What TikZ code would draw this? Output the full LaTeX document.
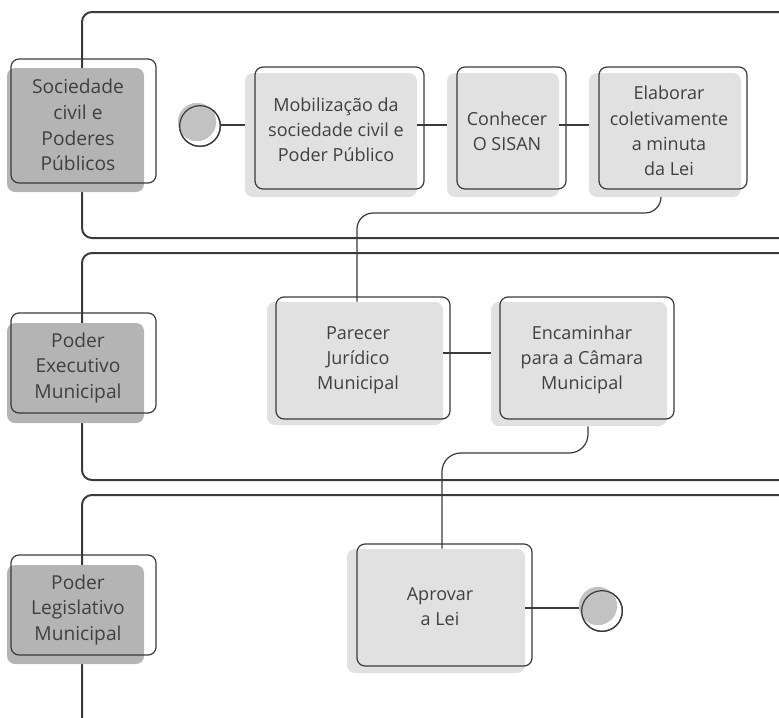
\documentclass[tikz,border=0pt]{standalone}
\usepackage{fontspec}
\setmainfont{Open Sans}
\usetikzlibrary{fit,calc}
\definecolor{lne}{HTML}{3A3A3A}
\definecolor{txt}{HTML}{404040}
\definecolor{hdfill}{HTML}{B4B4B4}
\definecolor{pfillc}{HTML}{E1E1E1}
\definecolor{cfill}{HTML}{C2C2C2}
\tikzset{
  lane/.style={draw=lne, line width=1.5pt, rounded corners=7.5pt},
  hdbg/.style={fill=hdfill, draw=none, rounded corners=6pt, inner sep=0pt},
  pbg/.style={fill=pfillc, draw=none, rounded corners=6pt, inner sep=0pt},
  obox/.style={draw=lne, line width=0.9pt, rounded corners=6pt, inner sep=0pt, fill=none},
  tx/.style={text=txt, align=center, font=\fontsize{13.5pt}{18.9pt}\selectfont, inner sep=0pt},
  htx/.style={text=txt, align=center, font=\fontsize{14.4pt}{19.3pt}\selectfont, inner sep=0pt},
  conn/.style={draw=lne, line width=0.9pt},
  cbg/.style={circle, fill=cfill, draw=none, inner sep=0pt, minimum size=28.5pt},
  cout/.style={circle, draw=lne, line width=0.9pt, inner sep=0pt, minimum size=30.5pt}
}
\begin{document}
\begin{tikzpicture}[x=0.75pt,y=-0.75pt]
\useasboundingbox (0,0) rectangle (779,718);
\clip (0,0) rectangle (779,718);
% lanes
\draw[lane] (82,12) rectangle (820,238);
\draw[lane] (82,253) rectangle (820,480);
\draw[lane] (82,495) rectangle (820,760);
% lane headers
\node[hdbg, fit={(7,68) (144,192)}] (h1f) {};
\node[obox, fit={(11,59) (156,183)}] (h1) {};
\node[htx] (h1t) at (78,125) {Sociedade\\civil e\\Poderes\\Públicos};
\node[hdbg, fit={(7,323) (144,423)}] (h2f) {};
\node[obox, fit={(11,313) (156,413)}] (h2) {};
\node[htx] (h2t) at (78,368) {Poder\\Executivo\\Municipal};
\node[hdbg, fit={(7,565) (144,664)}] (h3f) {};
\node[obox, fit={(11,555) (156,655)}] (h3) {};
\node[htx] (h3t) at (78,610) {Poder\\Legislativo\\Municipal};
% process boxes (fills)
\node[pbg, fit={(245,73) (417,197)}] (mobF) {};
\node[pbg, fit={(447,73) (559,197)}] (conF) {};
\node[pbg, fit={(589,73) (741,197)}] (elaF) {};
\node[pbg, fit={(267,302) (443,425)}] (parF) {};
\node[pbg, fit={(491,302) (667,426)}] (encF) {};
\node[pbg, fit={(347,549) (525,673)}] (aprF) {};
% circles
\node[cbg] (startF) at (197,122) {};
\node[cout] (startO) at (200,126) {};
\node[cbg] (endF) at (598,606) {};
\node[cout] (endO) at (602,611) {};
% connectors
\coordinate (r1) at (0,125);
\coordinate (r2) at (0,353);
\coordinate (r3) at (0,608);
\coordinate (k1) at (661,213);
\coordinate (k2) at (357,213);
\coordinate (k3) at (588,453);
\coordinate (k4) at (442,453);
\draw[conn] (startO.east |- r1) -- (mobF.west |- r1);
\draw[conn] (mobF.east |- r1) -- (conF.west |- r1);
\draw[conn] (conF.east |- r1) -- (elaF.west |- r1);
\draw[conn, rounded corners=12pt] (elaF.south -| k1) -- (k1) -- (k2) -- (parF.north -| k2);
\draw[conn] (parF.east |- r2) -- (encF.west |- r2);
\draw[conn, rounded corners=14pt] (encF.south -| k3) -- (k3) -- (k4) -- (aprF.north -| k4);
\draw[conn] (aprF.east |- r3) -- (endF.west |- r3);
% redraw circles over line ends
\node[cbg] at (startF) {};
\node[cout] at (startO) {};
\node[cbg] at (endF) {};
\node[cout] at (endO) {};
% process box outlines
\node[obox, fit={(255,67) (424,189)}] (mob) {};
\node[obox, fit={(457,67) (566,189)}] (con) {};
\node[obox, fit={(599,67) (747,189)}] (ela) {};
\node[obox, fit={(276,297) (450,419)}] (par) {};
\node[obox, fit={(500,297) (674,419)}] (enc) {};
\node[obox, fit={(357,544) (532,666)}] (apr) {};
% texts
\node[tx] (mobT) at (336,130) {Mobilização da\\sociedade civil e\\Poder Público};
\node[tx] (conT) at (507,131) {Conhecer\\O SISAN};
\node[tx] (elaT) at (669,131) {Elaborar\\coletivamente\\a minuta\\da Lei};
\node[tx] (parT) at (358,360) {Parecer\\Jurídico\\Municipal};
\node[tx] (encT) at (582,360) {Encaminhar\\para a Câmara\\Municipal};
\node[tx] (aprT) at (440,607) {Aprovar\\a Lei};
\end{tikzpicture}
\end{document}
